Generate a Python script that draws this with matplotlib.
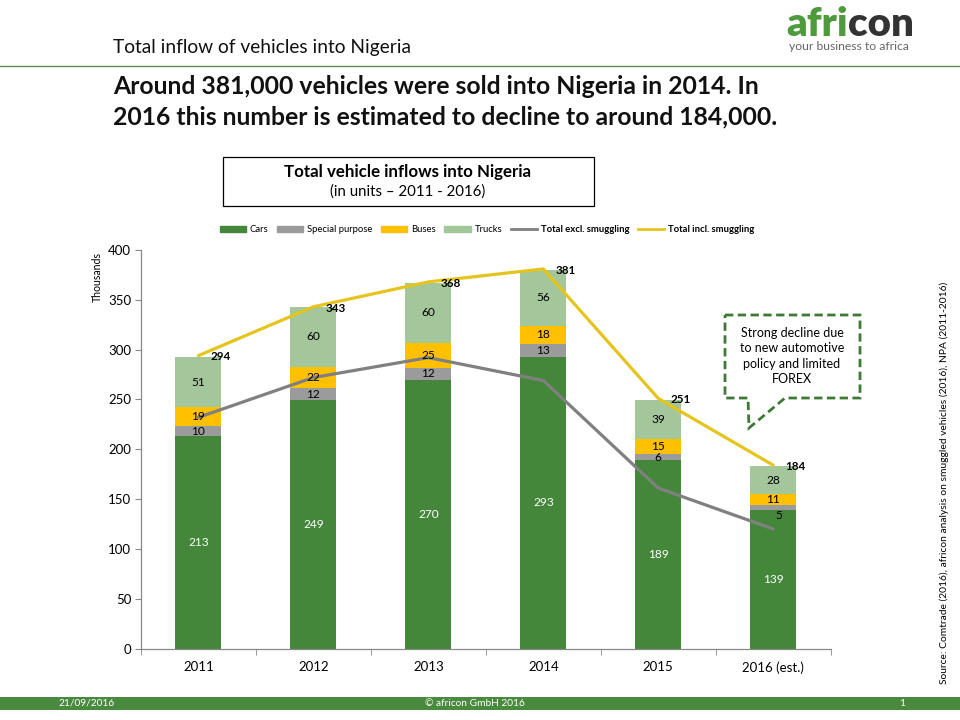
import matplotlib
matplotlib.use("Agg")
import matplotlib.pyplot as plt
from matplotlib.patches import Rectangle, Polygon, Patch
from matplotlib.lines import Line2D
from matplotlib.text import Annotation
import numpy as np

plt.rcParams['font.family'] = ['Lato', 'DejaVu Sans']

# ---- data ----
years = ['2011', '2012', '2013', '2014', '2015', '2016 (est.)']
cars = [213, 249, 270, 293, 189, 139]
special = [10, 12, 12, 13, 6, 5]
buses = [19, 22, 25, 18, 15, 11]
trucks = [51, 60, 60, 56, 39, 28]
total_excl = [232, 272, 292, 269, 161, 120]
total_incl = [294, 343, 368, 381, 251, 184]
yticks = [0, 50, 100, 150, 200, 250, 300, 350, 400]

C_CARS = '#44873A'
C_SPEC = '#9B9B9B'
C_BUS = '#FFC000'
C_TRUCK = '#A3C69B'
C_EXCL = '#808080'
C_INCL = '#E6C41E'
GREEN = '#4A8A3E'

W, H = 960, 720
fig = plt.figure(figsize=(9.6, 7.2), dpi=100)

def fx(px):
    return px / W

def fy(py):
    return 1 - py / H

# ---- header ----
fig.text(fx(113), fy(47), 'Total inflow of vehicles into Nigeria', fontsize=13.8,
         va='center', ha='left', color='#111111')
fig.add_artist(Line2D([0, 1], [fy(66), fy(66)], color='#5E8C50', lw=1.0))
fig.text(fx(113), fy(87), 'Around 381,000 vehicles were sold into Nigeria in 2014. In',
         fontsize=17.8, fontweight='bold', va='center', ha='left', color='#111111')
fig.text(fx(113), fy(117), '2016 this number is estimated to decline to around 184,000.',
         fontsize=17.8, fontweight='bold', va='center', ha='left', color='#111111')

# logo
t1 = fig.text(fx(786), fy(24), 'afri', fontsize=29, fontweight='heavy', color='#4E9A3C',
              va='center', ha='left')
t2 = Annotation('con', xy=(1, 0), xycoords=t1, fontsize=29, fontweight='heavy',
                color='#333333', va='bottom', ha='left')
fig.add_artist(t2)
fig.text(fx(849), fy(47), 'your business to africa', fontsize=8.7, color='#666666',
         va='center', ha='center')

# ---- title box ----
fig.add_artist(Rectangle((fx(223), fy(206)), fx(594) - fx(223), fy(157) - fy(206),
                         transform=fig.transFigure, fill=False, edgecolor='black', lw=0.9))
fig.text(fx(408), fy(172), 'Total vehicle inflows into Nigeria', fontsize=12.2,
         fontweight='bold', ha='center', va='center')
fig.text(fx(408), fy(192), '(in units \u2013 2011 - 2016)', fontsize=10.8,
         ha='center', va='center')

# ---- axes ----
ax = fig.add_axes([fx(141), fy(648.5), fx(830.7) - fx(141), fy(250) - fy(648.5)])
x = np.arange(len(years))
bw = 0.4
b0 = np.zeros(len(years))
segs = [(cars, C_CARS, 'white'), (special, C_SPEC, 'black'),
        (buses, C_BUS, 'black'), (trucks, C_TRUCK, 'black')]
for vals, col, tcol in segs:
    v = np.array(vals, dtype=float)
    ax.bar(x, v, bw, bottom=b0, color=col, edgecolor='none', zorder=2)
    for xi, bi, vi in zip(x, b0, v):
        off = (4, -6) if vi <= 5 else (0, 0)
        ax.annotate(f'{int(vi)}', xy=(xi, bi + vi / 2), xytext=off, textcoords='offset points',
                    ha='center', va='center', fontsize=8.6, color=tcol, zorder=5)
    b0 = b0 + v

ax.plot(x, total_excl, color=C_EXCL, lw=2.3, zorder=3, solid_capstyle='round')
ax.plot(x, total_incl, color=C_INCL, lw=2.3, zorder=3, solid_capstyle='round')
for xi, vi in zip(x, total_incl):
    ax.annotate(f'{vi}', xy=(xi, vi), xytext=(9, -1), textcoords='offset points',
                ha='left', va='center', fontsize=8.4, fontweight='bold', zorder=6)

ax.set_xlim(-0.5, len(years) - 0.5)
ax.set_ylim(0, 400)
ax.set_yticks(yticks)
ax.tick_params(axis='y', labelsize=9.5, length=4, color='#888888', pad=3)
ax.set_xticks(x)
ax.set_xticklabels(years, fontsize=9.5)
ax.tick_params(axis='x', which='major', length=0, pad=9)
ax.set_xticks(np.arange(-0.5, len(years)), minor=True)
ax.tick_params(axis='x', which='minor', length=4, color='#888888')
for s in ['top', 'right']:
    ax.spines[s].set_visible(False)
for s in ['left', 'bottom']:
    ax.spines[s].set_color('#888888')
    ax.spines[s].set_linewidth(0.9)

fig.text(fx(97), fy(277), 'Thousands', rotation=90, fontsize=7.6, ha='center', va='center')

# ---- legend ----
handles = [Patch(color=C_CARS), Patch(color=C_SPEC), Patch(color=C_BUS), Patch(color=C_TRUCK),
           Line2D([], [], color=C_EXCL, lw=2), Line2D([], [], color=C_INCL, lw=2)]
labels = ['Cars', 'Special purpose', 'Buses', 'Trucks', 'Total excl. smuggling',
          'Total incl. smuggling']
leg = fig.legend(handles, labels, loc='center', bbox_to_anchor=(fx(487), fy(230)),
                 ncol=6, frameon=False, fontsize=6.8, handlelength=2.8, handleheight=0.5,
                 columnspacing=0.9, handletextpad=0.4)
for t in leg.get_texts()[4:]:
    t.set_fontweight('bold')

# ---- callout ----
pts = [(725, 315), (860, 315), (860, 398), (785, 398), (749, 428), (748, 398), (725, 398)]
fig.add_artist(Polygon([(fx(a), fy(b)) for a, b in pts], closed=True, transform=fig.transFigure,
                       fill=False, edgecolor='#3E7A35', lw=2.0, linestyle=(0, (3, 1.6))))
fig.text(fx(792), fy(356), 'Strong decline due\nto new automotive\npolicy and limited\nFOREX',
         fontsize=9, ha='center', va='center', linespacing=1.35)

# ---- source ----
fig.text(fx(944), fy(483),
         'Source: Comtrade (2016), africon analysis on smuggled vehicles (2016), NPA (2011-2016)',
         rotation=90, fontsize=7.4, ha='center', va='center')

# ---- footer ----
fig.add_artist(Rectangle((0, fy(710)), 1, fy(697) - fy(710), transform=fig.transFigure,
                         color=GREEN, lw=0))
fig.text(fx(87), fy(703.5), '21/09/2016', fontsize=7.3, color='white', ha='center', va='center')
fig.text(fx(475), fy(703.5), '\u00a9 africon GmbH 2016', fontsize=7.3, color='white',
         ha='center', va='center')
fig.text(fx(902), fy(703.5), '1', fontsize=7.3, color='white', ha='center', va='center')

fig.savefig('out.png', dpi=100)
